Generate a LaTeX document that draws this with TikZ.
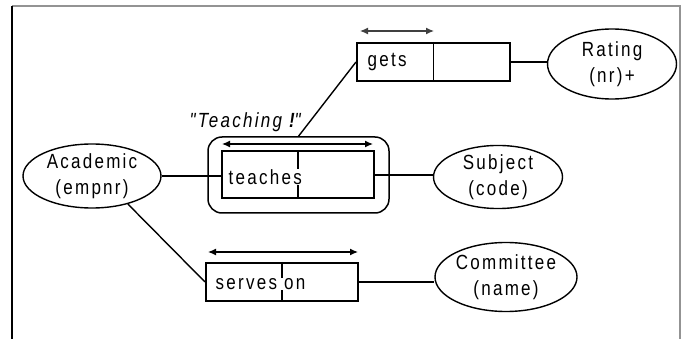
\documentclass[tikz,border=0pt]{standalone}
\usepackage{fontspec}
\setmainfont{Liberation Sans}
\newfontfamily\lblfont[LetterSpace=11,FakeStretch=0.83]{Liberation Sans}
\usetikzlibrary{shapes.geometric,arrows.meta,calc}
\begin{document}
\begin{tikzpicture}[x=1pt,y=-1pt,
  every node/.style={font=\lblfont\fontsize{20.5}{25.5}\selectfont},
  entity/.style={draw,ellipse,line width=1.4pt,inner sep=0pt,align=center},
  relbox/.style={draw,rectangle,line width=2pt,inner sep=0pt},
  conn/.style={line width=1.4pt},
  roles/.style={line width=1.2pt,{Latex[length=8pt,width=7pt]}-{Latex[length=8pt,width=7pt]}},
  boxtext/.style={fill=white,inner sep=0.5pt,anchor=west}]
\useasboundingbox (0,0) rectangle (691,339);
% frame
\draw[line width=1.5pt,gray!85] (12,6) -- (680,6) -- (680,339);
\draw[line width=1.5pt,black] (12,6) -- (12,339);
% entities
\node[entity,minimum width=138pt,minimum height=64pt] (acad) at (92,176) {Academic\\(empnr)};
\node[entity,minimum width=129pt,minimum height=70pt] (rating) at (612,64) {Rating\\(nr)+};
\node[entity,minimum width=129pt,minimum height=62pt] (subj) at (498,177) {Subject\\(code)};
\node[entity,minimum width=142pt,minimum height=69pt] (comm) at (506,277) {Committee\\(name)};
% relationship boxes
\node[draw,rectangle,rounded corners=14pt,line width=1.5pt,minimum width=181pt,minimum height=76pt] (round) at (298.5,175) {};
\node[relbox,minimum width=152pt,minimum height=47pt] (teach) at (298,175) {};
\node[relbox,minimum width=153pt,minimum height=38pt] (gets) at (433.5,62) {};
\node[relbox,minimum width=152pt,minimum height=38pt] (serves) at (282,282) {};
% dividers
\draw[line width=1.5pt] (teach.north) -- (teach.south);
\draw[line width=1.5pt] (gets.north) -- (gets.south);
\draw[line width=1.5pt] (serves.north) -- (serves.south);
% texts in boxes
\node[boxtext] (tteach) at (228,177) {teaches};
\node[boxtext] (tgets) at (367,62) {gets};
\node[boxtext] (tserves) at (215,284) {serves on};
\node[font=\lblfont\itshape\fontsize{20.5}{25}\selectfont,anchor=west] (tlabel) at (186,122) {"Teaching \textbf{!}"};
% role arrows
\coordinate (ga1) at (360,31); \coordinate (ga2) at (434,31);
\coordinate (ta1) at (222,144); \coordinate (ta2) at (373,144);
\coordinate (sa1) at (208,252); \coordinate (sa2) at (358,252);
\draw[roles,draw=black!75] (ga1) -- (ga2);
\draw[roles] (ta1) -- (ta2);
\draw[roles] (sa1) -- (sa2);
% connectors
\draw[conn] (acad.east) -- (acad.east -| teach.west);
\draw[conn] (teach.east) -- (teach.east -| subj.west);
\draw[conn] (gets.east) -- (gets.east -| rating.west);
\draw[conn] (gets.west) -- (round.north);
\draw[conn] (acad.-38) -- (serves.west);
\draw[conn] (serves.east) -- (serves.east -| comm.west);
\end{tikzpicture}
\end{document}
